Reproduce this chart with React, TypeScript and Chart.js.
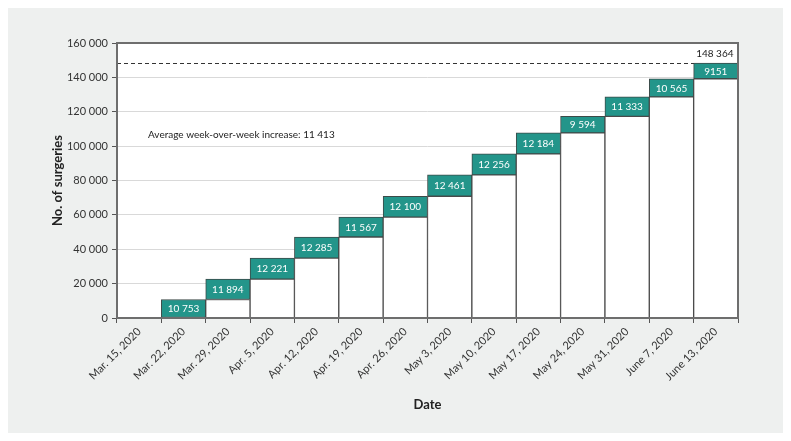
import React, { useEffect, useRef } from 'react';
import { Chart, registerables } from 'chart.js';

Chart.register(...registerables);

const categories = [
  'Mar. 15, 2020', 'Mar. 22, 2020', 'Mar. 29, 2020', 'Apr. 5, 2020', 'Apr. 12, 2020',
  'Apr. 19, 2020', 'Apr. 26, 2020', 'May 3, 2020', 'May 10, 2020', 'May 17, 2020',
  'May 24, 2020', 'May 31, 2020', 'June 7, 2020', 'June 13, 2020',
];

// weekly increase in number of surgeries (first week is the starting point)
const increments: (number | null)[] = [
  null, 10753, 11894, 12221, 12285, 11567, 12100, 12461, 12256, 12184, 9594, 11333, 10565, 9151,
];

const incrementLabels = [
  '', '10 753', '11 894', '12 221', '12 285', '11 567', '12 100', '12 461', '12 256', '12 184',
  '9 594', '11 333', '10 565', '9151',
];

const totalValue = 148364;
const totalLabel = '148 364';
const averageText = 'Average week-over-week increase: 11 413';
const averageTextValue = 106500;

const yMin = 0;
const yMax = 160000;
const yStep = 20000;

// cumulative base under each weekly increase
const bases: (number | null)[] = (() => {
  let run = 0;
  return increments.map((v) => {
    if (v === null) return null;
    const b = run;
    run += v;
    return b;
  });
})();

const FONT = 'Lato, "Noto Sans", sans-serif';

const fmt = (v: number) => {
  const s = Math.round(v).toString();
  return s.replace(/\B(?=(\d{3})+(?!\d))/g, ' ');
};

const customPlugin = {
  id: 'customDraw',
  beforeDraw(chart: any) {
    const { ctx, chartArea: a } = chart;
    ctx.save();
    ctx.fillStyle = '#ffffff';
    ctx.fillRect(a.left, a.top, a.right - a.left, a.bottom - a.top);
    ctx.restore();
  },
  beforeDatasetsDraw(chart: any) {
    const { ctx, chartArea: a, scales } = chart;
    const y = Math.round(scales.y.getPixelForValue(totalValue)) + 0.5;
    ctx.save();
    ctx.strokeStyle = '#333333';
    ctx.lineWidth = 1;
    ctx.setLineDash([4, 3]);
    ctx.beginPath();
    ctx.moveTo(a.left, y);
    ctx.lineTo(a.right, y);
    ctx.stroke();
    ctx.restore();
  },
  afterDatasetsDraw(chart: any) {
    const { ctx, chartArea: a, scales } = chart;
    const meta = chart.getDatasetMeta(1);
    ctx.save();
    ctx.font = `10px ${FONT}`;
    ctx.fillStyle = '#ffffff';
    ctx.textAlign = 'center';
    ctx.textBaseline = 'middle';
    meta.data.forEach((el: any, i: number) => {
      if (increments[i] === null) return;
      const { x, y, base } = el.getProps(['x', 'y', 'base'], true);
      ctx.fillText(incrementLabels[i], x, (y + base) / 2 + 0.5);
    });

    // total label above last bar
    const last = meta.data[meta.data.length - 1];
    const ty = scales.y.getPixelForValue(totalValue);
    ctx.fillStyle = '#222222';
    ctx.textBaseline = 'alphabetic';
    ctx.fillText(totalLabel, last.x - 1, ty - 6);

    // average text
    ctx.textAlign = 'left';
    ctx.textBaseline = 'middle';
    ctx.fillText(averageText, a.left + 31, scales.y.getPixelForValue(averageTextValue));

    // frame
    ctx.strokeStyle = '#6e6e6e';
    ctx.lineWidth = 2;
    ctx.setLineDash([]);
    ctx.strokeRect(a.left, a.top, a.right - a.left, a.bottom - a.top);
    ctx.restore();
  },
};

export default function App() {
  const ref = useRef<HTMLCanvasElement | null>(null);

  useEffect(() => {
    if (!ref.current) return;
    const chart = new Chart(ref.current, {
      type: 'bar',
      data: {
        labels: categories,
        datasets: [
          {
            label: 'Base',
            data: bases,
            backgroundColor: '#ffffff',
            borderColor: '#4a4a4a',
            borderWidth: 1,
            barPercentage: 1,
            categoryPercentage: 1,
          },
          {
            label: 'Weekly increase',
            data: increments,
            backgroundColor: '#23958a',
            borderColor: '#3d4a48',
            borderWidth: 1,
            borderSkipped: false,
            barPercentage: 1,
            categoryPercentage: 1,
          },
        ],
      },
      options: {
        animation: false,
        responsive: true,
        maintainAspectRatio: false,
        layout: { padding: { top: 36, right: 46, left: 0, bottom: 0 } },
        plugins: {
          legend: { display: false },
          tooltip: { enabled: false },
        },
        scales: {
          x: {
            stacked: true,
            offset: true,
            border: { display: false },
            grid: {
              offset: true,
              drawOnChartArea: false,
              drawTicks: true,
              tickLength: 5,
              tickColor: '#555555',
              lineWidth: 1,
            },
            ticks: {
              autoSkip: false,
              maxRotation: 45,
              minRotation: 45,
              padding: 2,
              color: '#333333',
              font: { family: FONT, size: 11 },
            },
            title: {
              display: true,
              text: 'Date',
              color: '#222222',
              font: { family: FONT, size: 13, weight: 'bold' },
              padding: { top: 0, bottom: 20 },
            },
            afterFit: (scale: any) => {
              scale.height = 115;
            },
          },
          y: {
            stacked: true,
            min: yMin,
            max: yMax,
            border: { display: false },
            grid: {
              color: '#d9d9d9',
              tickColor: '#555555',
              tickLength: 5,
              lineWidth: 1,
            },
            ticks: {
              stepSize: yStep,
              padding: 4,
              color: '#333333',
              font: { family: FONT, size: 11 },
              callback: (v: any) => fmt(Number(v)),
            },
            title: {
              display: true,
              text: 'No. of surgeries',
              color: '#222222',
              font: { family: FONT, size: 13, weight: 'bold' },
              padding: { top: 43, bottom: 0 },
            },
            afterFit: (scale: any) => {
              scale.width = 110;
            },
          },
        },
      },
      plugins: [customPlugin],
    });
    return () => chart.destroy();
  }, []);

  return (
    <div
      style={{
        margin: '-1px 0 0 -1px',
        width: 777,
        height: 426,
        background: '#eef0ef',
        position: 'relative',
      }}
    >
      <canvas ref={ref} />
    </div>
  );
}
